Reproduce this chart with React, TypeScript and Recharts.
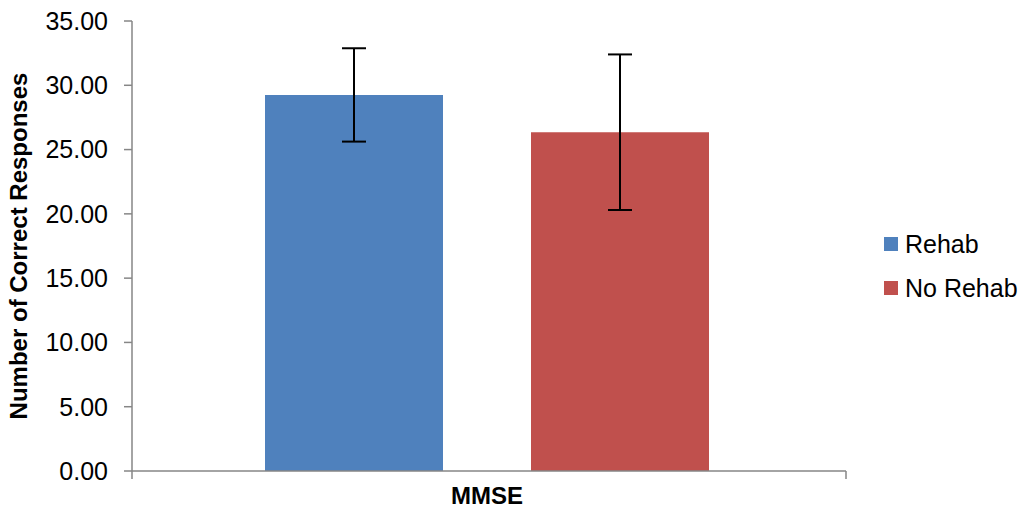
import { Bar, BarChart, ErrorBar, XAxis, YAxis, usePlotArea } from "recharts";

const categories = ["MMSE"];
const seriesNames = ["Rehab", "No Rehab"];
const rehabMeans = [29.25];
const rehabErrors = [3.63];
const noRehabMeans = [26.35];
const noRehabErrors = [6.05];
const yTicks = [0, 5, 10, 15, 20, 25, 30, 35];
const colors = ["#4F81BD", "#C0504D"];

const data = categories.map((name, i) => ({
  name,
  rehab: rehabMeans[i],
  rehabErr: rehabErrors[i],
  noRehab: noRehabMeans[i],
  noRehabErr: noRehabErrors[i],
}));

const FONT = "'Liberation Sans', Arial, sans-serif";
const AXIS = "#868686";

// end tick marks on the category axis + rotated y title
function Decor() {
  const area = usePlotArea();
  if (!area) return null;
  const yb = area.y + area.height;
  const cy = area.y + area.height / 2;
  return (
    <g>
      {[area.x, area.x + area.width].map((x) => (
        <line key={x} x1={x} x2={x} y1={yb} y2={yb + 8} stroke={AXIS} strokeWidth={1.5} />
      ))}
      <text
        x={18}
        y={cy}
        transform={`rotate(-90, 18, ${cy})`}
        textAnchor="middle"
        dominantBaseline="central"
        fontFamily={FONT}
        fontWeight="bold"
        fontSize={24}
        fill="#000"
      >
        Number of Correct Responses
      </text>
    </g>
  );
}

export default function App() {
  return (
    <div style={{ position: "absolute", left: 0, top: 0, width: 1025, height: 510, background: "#fff" }}>
      <BarChart
        width={1025}
        height={510}
        data={data}
        margin={{ top: 21, right: 179, bottom: 0, left: 0 }}
        barSize={178}
        barGap={88}
      >
        <XAxis
          dataKey="name"
          height={39}
          padding={{ left: 0, right: 4 }}
          stroke={AXIS}
          strokeWidth={1.5}
          tickLine={false}
          tickSize={0}
          tickMargin={16}
          tick={{ fill: "#000", fontFamily: FONT, fontWeight: "bold", fontSize: 24 }}
        />
        <YAxis
          width={132}
          domain={[0, 35]}
          ticks={yTicks}
          interval={0}
          stroke={AXIS}
          strokeWidth={1.5}
          tickSize={8}
          tickMargin={16}
          tickFormatter={(v: number) => v.toFixed(2)}
          tick={{ fill: "#000", fontFamily: FONT, fontSize: 25 }}
        />
        <Bar dataKey="rehab" name={seriesNames[0]} fill={colors[0]} isAnimationActive={false}>
          <ErrorBar dataKey="rehabErr" width={12} stroke="#000" strokeWidth={2} direction="y" />
        </Bar>
        <Bar dataKey="noRehab" name={seriesNames[1]} fill={colors[1]} isAnimationActive={false}>
          <ErrorBar dataKey="noRehabErr" width={12} stroke="#000" strokeWidth={2} direction="y" />
        </Bar>
        <Decor />
      </BarChart>
      <div style={{ position: "absolute", left: 884, top: 222, fontFamily: FONT, fontSize: 25 }}>
        {seriesNames.map((n, i) => (
          <div key={n} style={{ display: "flex", alignItems: "center", height: 44 }}>
            <span style={{ width: 14, height: 14, background: colors[i], marginRight: 7 }} />
            <span>{n}</span>
          </div>
        ))}
      </div>
    </div>
  );
}
